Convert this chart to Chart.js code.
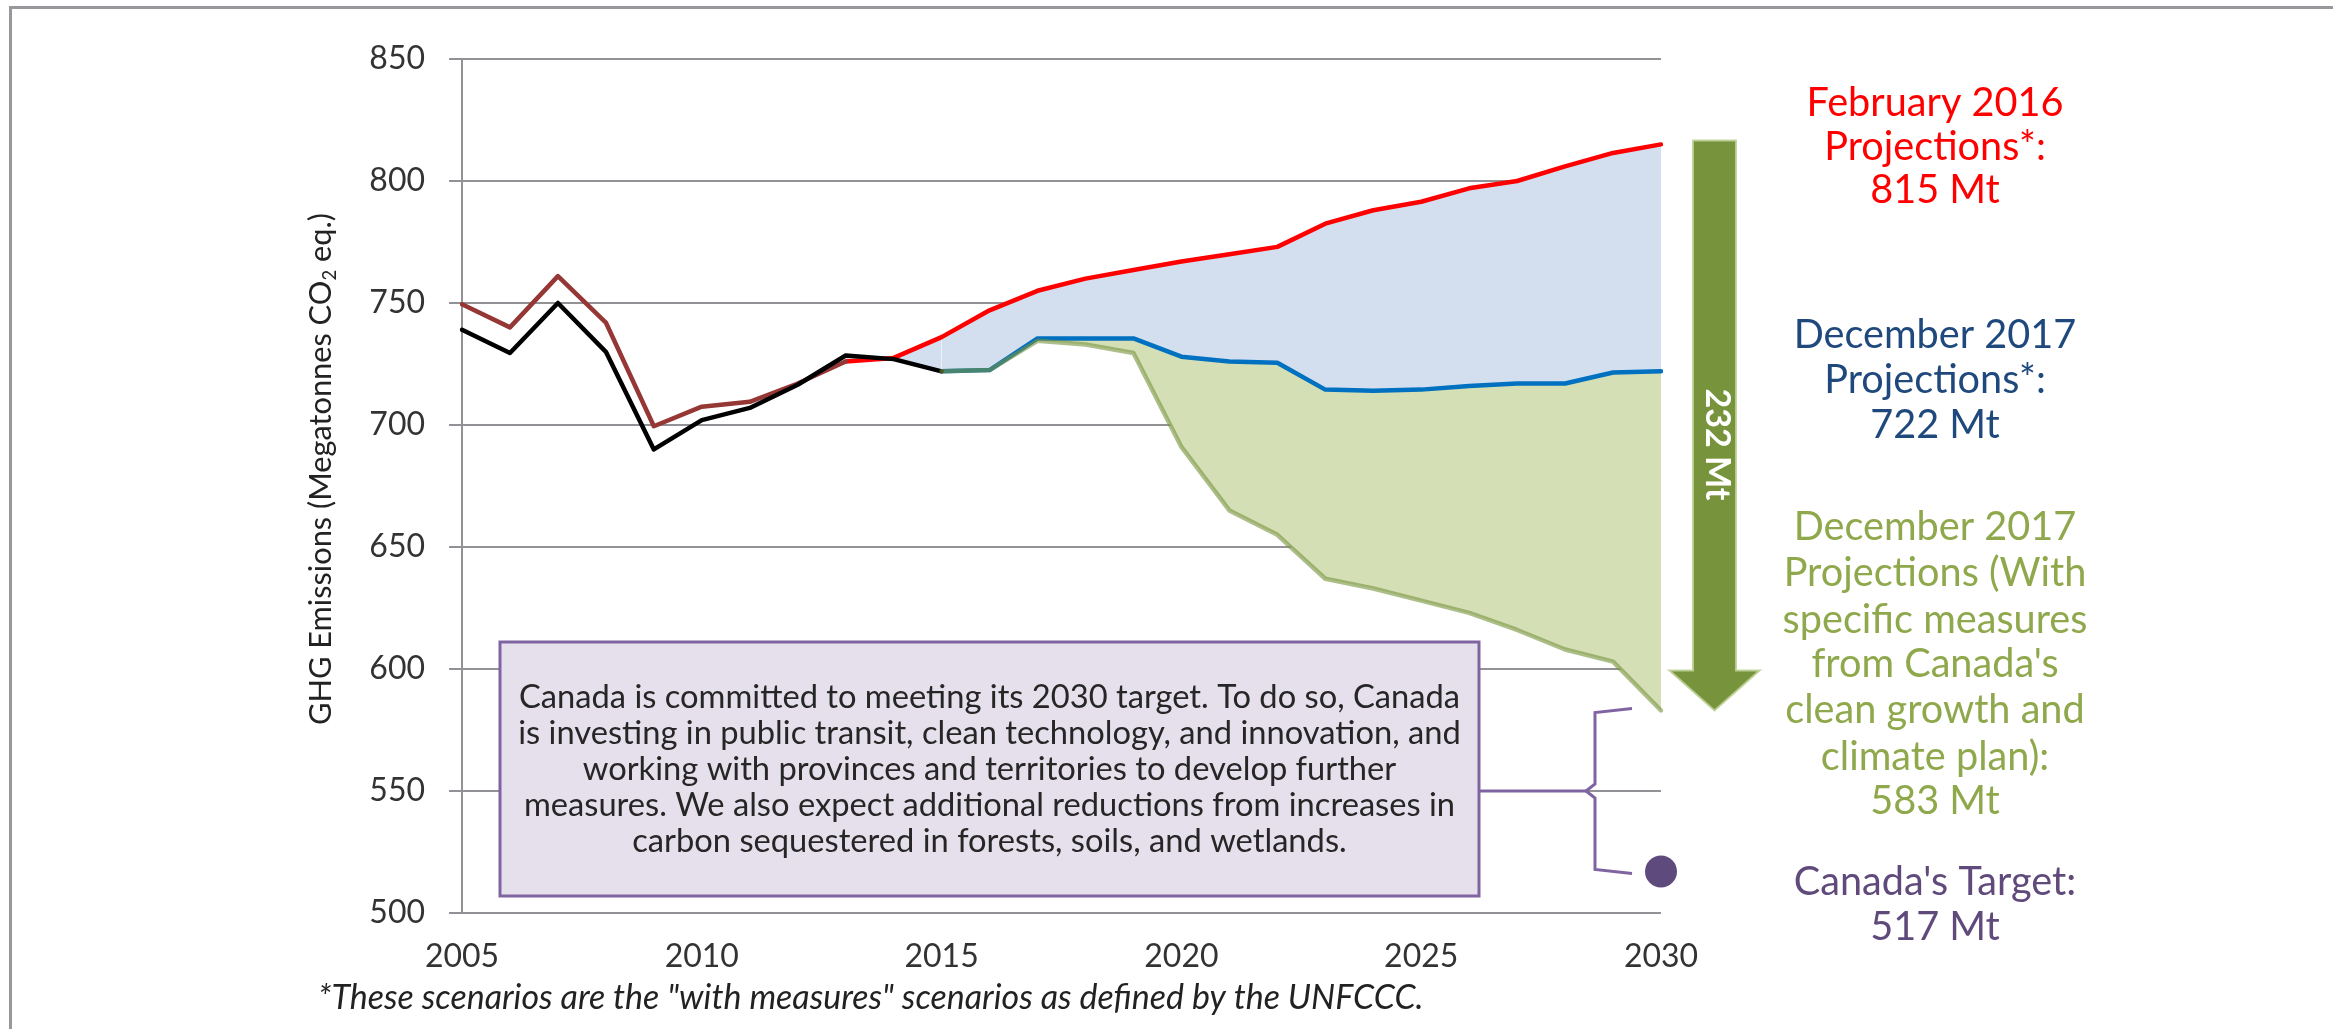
<!DOCTYPE html>
<html>
<head>
<meta charset="utf-8">
<script src="https://cdn.jsdelivr.net/npm/chart.js@4.4.1/dist/chart.umd.min.js"></script>
<style>
  html, body { margin: 0; padding: 0; background: #fff; }
  #wrap { width: 2333px; height: 1029px; }
</style>
</head>
<body>
<div id="wrap"><canvas id="chart" width="2333" height="1029"></canvas></div>
<script>
// categories
const years = [2005, 2006, 2007, 2008, 2009, 2010, 2011, 2012, 2013, 2014, 2015, 2016, 2017,
  2018, 2019, 2020, 2021, 2022, 2023, 2024, 2025, 2026, 2027, 2028, 2029, 2030];

// series (Mt CO2 eq.), each starting at the year noted
const historicalDec2017 = [739, 729.5, 750, 730, 690, 702, 707, 716.5, 728.5, 727, 722];   // from 2005
const historicalFeb2016 = [749.5, 740, 761, 742, 699.5, 707.5, 709.5, 717, 726];           // from 2005
const projFeb2016 = [726, 727.5, 736, 747, 755, 760, 763.5, 767, 770, 773, 782.5, 788,
  791.5, 797, 800, 806, 811.5, 815];                                                        // from 2013
const projDec2017 = [722, 722.5, 735.5, 735.5, 735.5, 728, 726, 725.5, 714.5, 714, 714.5,
  716, 717, 717, 721.5, 722];                                                               // from 2015
const projDec2017Measures = [722, 722.5, 734.5, 733, 729.5, 691, 665, 655, 637, 633, 628,
  623, 616, 608, 603, 583];                                                                 // from 2015
const target2030 = 517;

const yTicks = [500, 550, 600, 650, 700, 750, 800, 850];
const xTickYears = [2005, 2010, 2015, 2020, 2025, 2030];

const boxLines = [
  'Canada is committed to meeting its 2030 target. To do so, Canada',
  'is investing in public transit, clean technology, and innovation, and',
  'working with provinces and territories to develop further',
  'measures. We also expect additional reductions from increases in',
  'carbon sequestered in forests, soils, and wetlands.'
];
const sideLabels = [
  { color: '#ff0000', lines: ['February 2016', 'Projections*:', '815 Mt'], y: [103, 147, 190] },
  { color: '#1f497d', lines: ['December 2017', 'Projections*:', '722 Mt'], y: [335, 380, 425] },
  { color: '#8fa84c', lines: ['December 2017', 'Projections (With', 'specific measures',
      "from Canada's", 'clean growth and', 'climate plan):', '583 Mt'],
    y: [527, 573, 620, 664, 710, 757, 801] },
  { color: '#604a7b', lines: ["Canada's Target:", '517 Mt'], y: [882, 927] }
];
const footnote = '*These scenarios are the "with measures" scenarios as defined by the UNFCCC.';

const onYears = (start, values) => years.map(yr => {
  const i = yr - start;
  return i >= 0 && i < values.length ? values[i] : null;
});

const FONT = 'Lato';
function fitSize(ctx, text, width, style) {
  ctx.font = style + ' 100px ' + FONT;
  return 100 * width / ctx.measureText(text).width;
}

const annotate = {
  id: 'annotate',
  beforeDraw(chart) {
    const c = chart.ctx;
    c.save();
    c.fillStyle = '#ffffff';
    c.fillRect(0, 0, chart.width, chart.height);
    c.strokeStyle = '#98989c';
    c.lineWidth = 3;
    c.beginPath();
    c.moveTo(10.5, chart.height);
    c.lineTo(10.5, 7.5);
    c.lineTo(chart.width, 7.5);
    c.stroke();
    c.restore();
  },
  afterDraw(chart) {
    const c = chart.ctx, area = chart.chartArea, y = chart.scales.y;
    c.save();

    // y axis title with subscript
    const t1 = 'GHG Emissions (Megatonnes CO', t2 = '2', t3 = ' eq.)';
    c.font = '100px ' + FONT;
    const w1 = c.measureText(t1).width, w3 = c.measureText(t3).width;
    c.font = '60px ' + FONT;
    const w2 = c.measureText(t2).width;
    const ts = 100 * 512 / (w1 + w2 + w3);
    c.translate(321, 469);
    c.rotate(-Math.PI / 2);
    c.fillStyle = '#222';
    c.textBaseline = 'middle';
    c.textAlign = 'left';
    let tx = -256;
    c.font = ts + 'px ' + FONT;
    c.fillText(t1, tx, 0); tx += w1 * ts / 100;
    c.font = (ts * 0.6) + 'px ' + FONT;
    c.fillText(t2, tx, ts * 0.3); tx += w2 * ts / 100;
    c.font = ts + 'px ' + FONT;
    c.fillText(t3, tx, 0);
    c.setTransform(1, 0, 0, 1, 0, 0);

    // text box
    const box = { l: 500, r: 1479, t: 642, b: 896 };
    c.fillStyle = '#e5e0ec';
    c.fillRect(box.l, box.t, box.r - box.l, box.b - box.t);
    c.strokeStyle = '#8064a2';
    c.lineWidth = 3;
    c.strokeRect(box.l, box.t, box.r - box.l, box.b - box.t);
    const bs = fitSize(c, boxLines[1], 943, '');
    c.font = bs + 'px ' + FONT;
    c.fillStyle = '#262626';
    c.textAlign = 'center';
    c.textBaseline = 'middle';
    boxLines.forEach((ln, i) => c.fillText(ln, (box.l + box.r) / 2, 697 + i * 36.2));

    // bracket from box to the 2030 range
    const yTop = y.getPixelForValue(projDec2017Measures[projDec2017Measures.length - 1]);
    const yBot = y.getPixelForValue(target2030);
    const yMid = (yTop + yBot) / 2;
    const bx = area.right - 66, ex = area.right - 29;
    c.strokeStyle = '#8064a2';
    c.lineWidth = 3;
    c.beginPath();
    c.moveTo(box.r, yMid);
    c.lineTo(bx - 9, yMid);
    c.stroke();
    c.beginPath();
    c.moveTo(ex, yTop - 2);
    c.lineTo(bx, yTop + 2);
    c.lineTo(bx, yMid - 7);
    c.lineTo(bx - 9, yMid);
    c.lineTo(bx, yMid + 7);
    c.lineTo(bx, yBot - 2);
    c.lineTo(ex, yBot + 2);
    c.stroke();

    // reduction arrow
    const ax = area.right + 53.5;
    const aTop = y.getPixelForValue(projFeb2016[projFeb2016.length - 1]) - 4;
    const aTip = yTop;
    const headBase = aTip - 40;
    c.beginPath();
    c.moveTo(ax - 21.5, aTop);
    c.lineTo(ax + 21.5, aTop);
    c.lineTo(ax + 21.5, headBase);
    c.lineTo(ax + 45, headBase);
    c.lineTo(ax, aTip);
    c.lineTo(ax - 45, headBase);
    c.lineTo(ax - 21.5, headBase);
    c.closePath();
    c.fillStyle = '#77933c';
    c.fill();
    c.strokeStyle = 'rgba(190,208,150,0.9)';
    c.lineWidth = 2;
    c.stroke();
    const as = fitSize(c, '232 Mt', 112, 'bold');
    c.translate(ax + 2, y.getPixelForValue(692));
    c.rotate(Math.PI / 2);
    c.font = 'bold ' + as + 'px ' + FONT;
    c.fillStyle = '#ffffff';
    c.fillText('232 Mt', 0, 0);
    c.setTransform(1, 0, 0, 1, 0, 0);

    // side labels
    const ls = fitSize(c, 'specific measures', 305, '');
    c.font = ls + 'px ' + FONT;
    sideLabels.forEach(g => {
      c.fillStyle = g.color;
      g.lines.forEach((ln, i) => c.fillText(ln, 1935, g.y[i]));
    });

    // footnote
    const fs = fitSize(c, footnote, 1106, 'italic');
    c.font = 'italic ' + fs + 'px ' + FONT;
    c.fillStyle = '#222';
    c.textAlign = 'left';
    c.fillText(footnote, 318, 998);

    c.restore();
  }
};

const lineBase = { pointRadius: 0, pointHoverRadius: 0, tension: 0, borderJoinStyle: 'round', borderCapStyle: 'round' };

new Chart(document.getElementById('chart'), {
  type: 'line',
  data: {
    labels: years,
    datasets: [
      { ...lineBase, label: "Canada's Target", data: onYears(2030, [target2030]), showLine: false,
        pointRadius: 16, pointBackgroundColor: '#5f4a7d', pointBorderWidth: 0, clip: false },
      { ...lineBase, label: 'Dec 2017 with measures', data: onYears(2015, projDec2017Measures),
        borderColor: 'rgba(119,147,60,0.6)', borderWidth: 4.5, fill: false },
      { ...lineBase, label: 'Historical (Dec 2017)', data: onYears(2005, historicalDec2017),
        borderColor: '#000000', borderWidth: 4.5, fill: 4, backgroundColor: '#d3dfee' },
      { ...lineBase, label: 'Historical (Feb 2016)', data: onYears(2005, historicalFeb2016),
        borderColor: '#953735', borderWidth: 4.5, fill: false },
      { ...lineBase, label: 'Feb 2016 projections', data: onYears(2013, projFeb2016),
        borderColor: '#ff0000', borderWidth: 4.5, fill: 5, backgroundColor: '#d3dfee' },
      { ...lineBase, label: 'Dec 2017 projections', data: onYears(2015, projDec2017),
        borderColor: '#0070c0', borderWidth: 4.5, fill: 1, backgroundColor: '#d4dfb5' }
    ]
  },
  options: {
    responsive: false,
    devicePixelRatio: 1,
    animation: false,
    layout: { padding: { top: 59, right: 672, bottom: 46, left: 0 } },
    plugins: {
      legend: { display: false },
      tooltip: { enabled: false },
      filler: { drawTime: 'beforeDatasetsDraw', propagate: false }
    },
    scales: {
      x: {
        type: 'category',
        offset: false,
        afterFit: s => { s.height = 70; },
        grid: { display: false, drawTicks: false },
        border: { display: false },
        ticks: {
          autoSkip: false, maxRotation: 0, padding: 24,
          color: '#333', font: { family: FONT, size: 32 },
          callback: (v, i) => xTickYears.includes(years[i]) ? String(years[i]) : ''
        }
      },
      y: {
        min: yTicks[0], max: yTicks[yTicks.length - 1],
        afterFit: s => { s.width = 462; },
        afterBuildTicks: s => { s.ticks = yTicks.map(v => ({ value: v })); },
        grid: { color: '#929296', lineWidth: 2, tickLength: 13, drawTicks: true },
        border: { display: true, color: '#929296', width: 2 },
        ticks: { padding: 24, color: '#333', font: { family: FONT, size: 32 } }
      }
    }
  },
  plugins: [annotate]
});
</script>
</body>
</html>
